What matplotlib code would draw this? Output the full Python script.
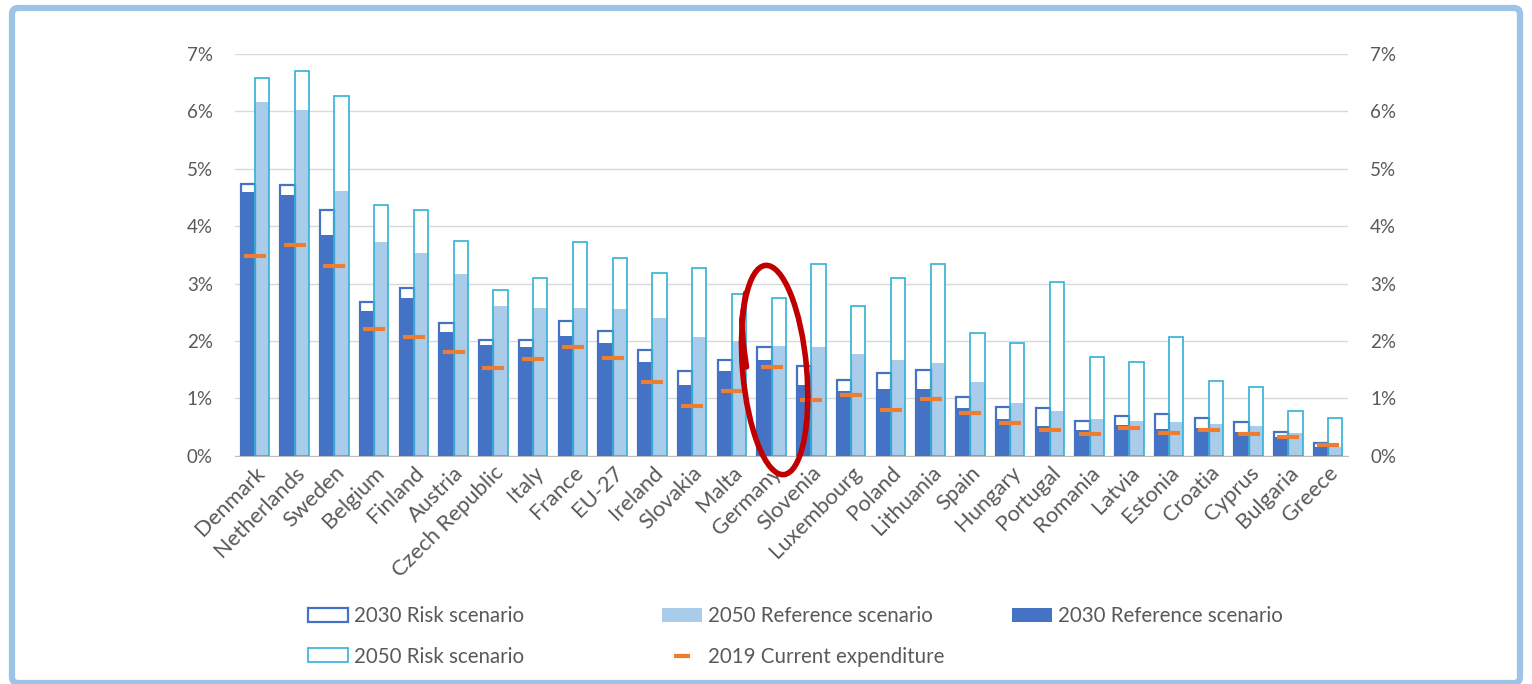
import matplotlib
matplotlib.use("Agg")
import matplotlib.pyplot as plt
import matplotlib.ticker as mtick
from matplotlib.lines import Line2D
from matplotlib.patches import Patch, Ellipse, FancyBboxPatch
from matplotlib.transforms import IdentityTransform
import numpy as np

# data (share of GDP, %)
countries = ["Denmark", "Netherlands", "Sweden", "Belgium", "Finland", "Austria",
             "Czech Republic", "Italy", "France", "EU-27", "Ireland", "Slovakia",
             "Malta", "Germany", "Slovenia", "Luxembourg", "Poland", "Lithuania",
             "Spain", "Hungary", "Portugal", "Romania", "Latvia", "Estonia",
             "Croatia", "Cyprus", "Bulgaria", "Greece"]
ref_2030 = [4.59, 4.54, 3.85, 2.52, 2.75, 2.15, 1.93, 1.89, 2.09, 1.96, 1.63, 1.23,
            1.47, 1.67, 1.23, 1.12, 1.16, 1.16, 0.83, 0.64, 0.51, 0.45, 0.53, 0.47,
            0.49, 0.41, 0.32, 0.16]
risk_2030 = [4.73, 4.71, 4.28, 2.68, 2.93, 2.32, 2.02, 2.02, 2.34, 2.17, 1.84, 1.47,
             1.67, 1.89, 1.57, 1.32, 1.44, 1.49, 1.03, 0.85, 0.83, 0.61, 0.70, 0.73,
             0.65, 0.58, 0.41, 0.23]
ref_2050 = [6.17, 6.03, 4.61, 3.73, 3.54, 3.16, 2.60, 2.57, 2.57, 2.55, 2.40, 2.06,
            2.00, 1.92, 1.89, 1.77, 1.67, 1.61, 1.28, 0.91, 0.78, 0.64, 0.61, 0.59,
            0.56, 0.51, 0.39, 0.15]
risk_2050 = [6.58, 6.71, 6.26, 4.36, 4.28, 3.75, 2.89, 3.10, 3.72, 3.45, 3.19, 3.27,
             2.82, 2.75, 3.34, 2.60, 3.10, 3.34, 2.13, 1.97, 3.02, 1.72, 1.64, 2.06,
             1.30, 1.19, 0.78, 0.66]
current_2019 = [3.48, 3.68, 3.31, 2.21, 2.06, 1.81, 1.52, 1.69, 1.89, 1.71, 1.29, 0.86,
                1.12, 1.55, 0.97, 1.06, 0.80, 0.99, 0.74, 0.57, 0.45, 0.37, 0.48, 0.40,
                0.45, 0.37, 0.33, 0.18]
y_ticks = [0, 1, 2, 3, 4, 5, 6, 7]

DARK_BLUE = "#4472C4"
LIGHT_BLUE = "#A9CCEB"
TEAL = "#31B2D6"
ORANGE = "#ED7D31"
GRID = "#D9D9D9"
TEXT = "#595959"
FRAME = "#9DC3E6"
RED = "#C00000"

plt.rcParams.update({
    "font.family": ["Lato", "DejaVu Sans"],
    "font.size": 13.5,
    "text.color": TEXT,
    "xtick.color": TEXT,
    "ytick.color": TEXT,
})

W, H = 1532, 684
fig = plt.figure(figsize=(W / 100, H / 100), dpi=100)
fig.patch.set_facecolor("white")
ax = fig.add_axes([235 / W, 228.3 / H, 1113 / W, 401.7 / H])

x = np.arange(len(countries))
bw = 0.36
x30 = x - bw / 2
x50 = x + bw / 2

# risk boxes (white fill behind), reference fills, then risk outlines on top
ax.bar(x30, risk_2030, bw, color="white", zorder=2)
ax.bar(x50, risk_2050, bw, color="white", zorder=2)
ax.bar(x30, ref_2030, bw, color=DARK_BLUE, zorder=3)
ax.bar(x50, ref_2050, bw, color=LIGHT_BLUE, zorder=3)
ax.bar(x30, risk_2030, bw, facecolor="none", edgecolor=DARK_BLUE, linewidth=1.6, zorder=4)
ax.bar(x50, risk_2050, bw, facecolor="none", edgecolor=TEAL, linewidth=1.2, zorder=4)
ax.plot(x, current_2019, linestyle="None", marker="_", markersize=16,
        markeredgewidth=3, color=ORANGE, zorder=5)

ax.set_xlim(-0.5, len(countries) - 0.5)
ax.set_ylim(0, 7)
ax.set_yticks(y_ticks)
ax.yaxis.set_major_formatter(mtick.FuncFormatter(lambda v, _: f"{v:.0f}%"))
ax.tick_params(axis="y", length=0, pad=16, labelright=True, labelsize=13.5)
ax.set_xticks(x)
ax.set_xticklabels(countries, rotation=45, ha="right", va="top",
                   rotation_mode="anchor")
ax.tick_params(axis="x", length=0, pad=5, labelsize=15.8)
ax.grid(axis="y", color=GRID, linewidth=1.0, zorder=0)
ax.set_axisbelow(True)
for s in ["top", "right", "left"]:
    ax.spines[s].set_visible(False)
ax.spines["bottom"].set_color("#BFBFBF")

# legend, laid out in three columns like the original
h_risk30 = Patch(facecolor="white", edgecolor=DARK_BLUE, linewidth=1.6)
h_risk50 = Patch(facecolor="white", edgecolor=TEAL, linewidth=1.2)
h_ref50 = Patch(facecolor=LIGHT_BLUE, edgecolor="none")
h_ref30 = Patch(facecolor=DARK_BLUE, edgecolor="none")
h_cur = Line2D([], [], color=ORANGE, linestyle="None", marker="_",
               markersize=12, markeredgewidth=3)

common = dict(frameon=False, loc="upper left", borderpad=0, borderaxespad=0,
              handlelength=1.95, handleheight=0.65, handletextpad=0.3,
              labelspacing=1.0, fontsize=14.8, labelcolor=TEXT)
cols = [([h_risk30, h_risk50], ["2030 Risk scenario", "2050 Risk scenario"], 308),
        ([h_ref50, h_cur], ["2050 Reference scenario", "2019 Current expenditure"], 662),
        ([h_ref30], ["2030 Reference scenario"], 1012)]
for hs, ls, xp in cols:
    fig.legend(hs, ls, bbox_to_anchor=(xp / W, 1 - 606 / H), **common)

# hand-drawn red ellipse around Germany
fig.canvas.draw()
cx, cy = ax.transData.transform((countries.index("Germany"), 0))
cx_px = cx + 3
cy_px = H - 370
ell = Ellipse((cx_px, cy_px), 64, 210, angle=5, transform=IdentityTransform(),
              facecolor="none", edgecolor=RED, linewidth=4.0, zorder=10)
fig.add_artist(ell)
stroke = Line2D([cx_px - 29, cx_px - 33, cx_px - 31, cx_px - 28],
                [H - 293, H - 320, H - 345, H - 367],
                transform=IdentityTransform(), color=RED, linewidth=3.8,
                solid_capstyle="round", zorder=10)
fig.add_artist(stroke)

# light blue frame
frame = FancyBboxPatch((12, 1), W - 24, H - 9,
                       boxstyle="round,pad=0,rounding_size=6",
                       transform=IdentityTransform(), facecolor="none",
                       edgecolor=FRAME, linewidth=4.5, zorder=20)
fig.add_artist(frame)

fig.savefig("out.png", dpi=100, facecolor="white")
